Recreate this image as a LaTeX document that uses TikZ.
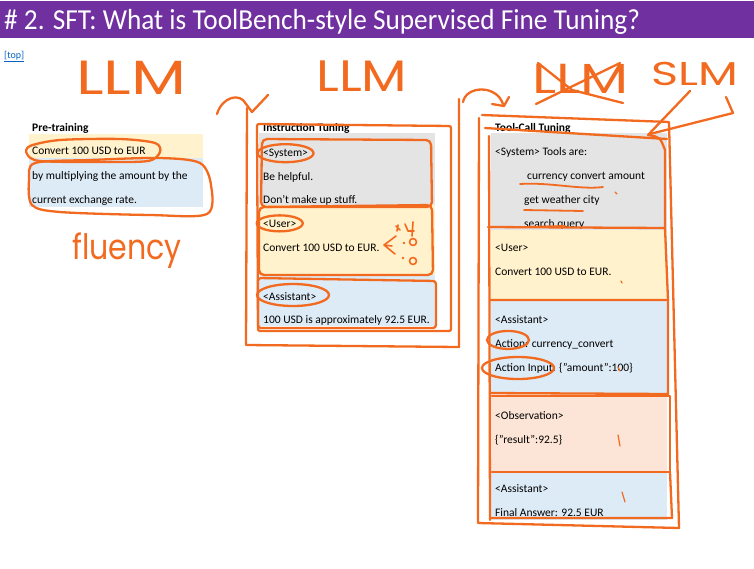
\documentclass[tikz,border=0pt]{standalone}
\usepackage{fontspec}
\setmainfont{Carlito}
\newfontfamily\titlefont{Carlito}[FakeStretch=0.94]
\newfontfamily\inkfont{Poppins}
\usetikzlibrary{positioning}
\definecolor{slidepurple}{HTML}{7030A0}
\definecolor{paleyellow}{HTML}{FFF2CC}
\definecolor{paleblue}{HTML}{DDEBF7}
\definecolor{palegray}{HTML}{E4E4E4}
\definecolor{palepeach}{HTML}{FCE4D6}
\definecolor{inkorange}{HTML}{F26A1F}
\definecolor{linkblue}{HTML}{0563C1}

\begin{document}
\begin{tikzpicture}[x=1pt,y=-1pt,
    band/.style={anchor=north west,inner sep=0pt,outer sep=0pt,minimum width=#1},
    txt/.style={anchor=base west,inner sep=0pt,font=\fontsize{11.5}{13}\selectfont},
    head/.style={txt,font=\fontsize{11.5}{13}\selectfont\bfseries},
    ink/.style={draw=inkorange,line width=2.3pt,line cap=round,line join=round},
    inkword/.style={anchor=base west,inner sep=0pt,text=inkorange,font=\inkfont\fontsize{#1}{#1}\selectfont}
]
\useasboundingbox (0,0) rectangle (754,568);

% title bar
\node[band=754pt,fill=slidepurple,minimum height=37pt] (bar) at (0,1) {};
\node[anchor=base west,inner sep=0pt,text=white,font=\titlefont\fontsize{29}{29}\selectfont] (title) at (4,29) {\# 2. SFT: What is ToolBench-style Supervised Fine Tuning?};
\node[anchor=base west,inner sep=0pt,text=linkblue,font=\fontsize{10}{11}\selectfont] (top) at (4,58) {\underline{[top]}};

% pre-training
\node[head] (preHead) at (32,131) {Pre-training};
\node[band=174pt,fill=paleyellow,minimum height=24pt] (preUser) at (29,134) {};
\node[band=174pt,fill=paleblue,minimum height=49pt] (preText) at (29,158) {};
\node[txt] (preA) at (32,154) {Convert 100 USD to EUR};
\node[txt] (preB) at (32,179) {by multiplying the amount by the};
\node[txt] (preC) at (32,203) {current exchange rate.};

% instruction tuning
\node[head] (insHead) at (263,131) {Instruction Tuning};
\node[band=176pt,fill=palegray,minimum height=72pt] (insSys) at (259,133) {};
\node[band=176pt,fill=paleyellow,minimum height=70pt] (insUser) at (259,205) {};
\node[band=176pt,fill=paleblue,minimum height=51pt] (insAsst) at (259,275) {};
\node[txt] (insA) at (263,156) {<System>};
\node[txt] (insB) at (263,180) {Be helpful.};
\node[txt] (insC) at (263,203) {Don't make up stuff.};
\node[txt] (insD) at (263,227) {<User>};
\node[txt] (insE) at (263,251) {Convert 100 USD to EUR.};
\node[txt] (insF) at (263,300) {<Assistant>};
\node[txt] (insG) at (263,323) {100 USD is approximately 92.5 EUR.};

% tool-call tuning
\node[head] (toolHead) at (495,131) {Tool-Call Tuning};
\node[band=176pt,fill=palegray,minimum height=97pt] (toolSys) at (491,133) {};
\node[band=176pt,fill=paleyellow,minimum height=71pt] (toolUser) at (491,230) {};
\node[band=176pt,fill=paleblue,minimum height=92pt] (toolAct) at (491,301) {};
\node[band=176pt,fill=palepeach,minimum height=79pt] (toolObs) at (491,393) {};
\node[band=176pt,fill=paleblue,minimum height=48pt] (toolAns) at (491,472) {};
\node[txt] (toolA) at (495,155) {<System> Tools are:};
\node[txt] (toolB) at (527,179) {currency convert amount};
\node[txt] (toolC) at (524,203) {get weather city};
\node[txt] (toolD) at (524,227) {search query};
\node[txt] (toolE) at (495,251) {<User>};
\node[txt] (toolF) at (495,275) {Convert 100 USD to EUR.};
\node[txt] (toolG) at (495,323) {<Assistant>};
\node[txt] (toolH) at (495,347) {Action: currency\_convert};
\node[txt] (toolI) at (495,371) {Action Input: \{"amount":100\}};
\node[txt] (toolJ) at (495,419) {<Observation>};
\node[txt] (toolK) at (495,443) {\{"result":92.5\}};
\node[txt] (toolL) at (495,492) {<Assistant>};
\node[txt] (toolM) at (495,516) {Final Answer: 92.5 EUR};

% ink words
\node[inkword=48] (llmPre) at (76,94) {\scalebox{1.33}[1]{LLM}};
\node[inkword=44] (llmIns) at (316,91) {\scalebox{1.2}[1]{LLM}};
\node[inkword=42] (llmTool) at (532,93) {\scalebox{1.33}[1]{LLM}};
\node[inkword=33] (slm) at (651,85) {\scalebox{1.4}[1]{SLM}};
\node[inkword=35] (fluency) at (72,259) {\scalebox{0.86}[1]{fluency}};
\draw[ink] (536,104) -- (620,63);
\draw[ink] (538,63) -- (572,90) -- (623,103);

% pre-training marks
\draw[ink] plot[smooth cycle] coordinates {(30,146) (60,140) (120,139) (155,143) (160,152) (148,161) (100,162) (40,161) (27,154)};
\draw[ink] plot[smooth cycle] coordinates {(35,163) (90,160) (160,158) (200,163) (211,185) (207,214) (150,215) (60,212) (32,205) (29,180)};

% instruction marks
\draw[ink] (217,114) .. controls (222,97) and (240,92) .. (246,104) -- (252,112) -- (268,95);
\draw[ink] (247,108) -- (246,345) -- (459,347) -- (459,99);
\draw[ink,rounded corners=2pt] (257,124) -- (451,126) -- (451,331) -- (258,331) -- cycle;
\draw[ink,rounded corners=5pt] (262,139) -- (431,140) -- (432,207) -- (261,207) -- cycle;
\draw[ink,rounded corners=5pt] (259,207) -- (432,205) -- (433,275) -- (259,275) -- cycle;
\draw[ink,rounded corners=3pt] (258,278) -- (436,281) -- (436,328) -- (258,328) -- cycle;
\draw[ink] (insA.center) ellipse [x radius=28, y radius=9];
\draw[ink] (insD.center) ellipse [x radius=23, y radius=8];
\draw[ink] (293,295) ellipse [x radius=36, y radius=11];
\draw[ink,line width=1.6pt] (396,236) -- (384,245) -- (395,254) (384,245) -- (392,246);
\draw[ink,line width=1.6pt] (405,224) -- (408,231) -- (414,231) (413,222) -- (412,236) (396,226) -- (400,230) (398,225) -- (397,231);
\fill[inkorange] (404,243) circle (1.4) (403,258) circle (1.4);
\draw[ink,line width=1.6pt] (413,242) circle (3.5) (413,261) circle (3.5);

% tool-call marks
\draw[ink] (463,102) .. controls (466,86) and (496,84) .. (503,104);
\draw[ink] (492,104) -- (504,106) -- (509,97);
\draw[ink] (482,115) -- (669,122) -- (679,528) -- (478,523) -- (479,118);
\draw[ink] (485,128) -- (667,139);
\draw[ink] (690,91) -- (648,135) .. controls (660,137) .. (665,150) -- (665,228);
\draw[ink] (726,97) -- (733,113) -- (650,134);
\draw[ink] (489,136) -- (490,520);
\draw[ink] (488,227) -- (665,228) -- (668,300) -- (490,300);
\draw[ink] (668,300) -- (668,394) -- (490,393);
\draw[ink] (492,396) -- (670,396) -- (670,472) -- (492,472);
\draw[ink] (670,472) -- (672,518) -- (490,518);
\draw[ink] (toolH.west) ++(13,-4) ellipse [x radius=21, y radius=9];
\draw[ink] (518,368) ellipse [x radius=36, y radius=11];
\draw[ink,line width=1.8pt] (520,184) .. controls (550,182) and (580,190) .. (603,187);
\draw[ink,line width=1.8pt] (524,210) -- (583,211);
\draw[ink,line width=1.8pt] (523,227) -- (565,226);
\draw[ink,line width=1.2pt] (615,192) -- (617,194) (621,281) -- (622,283) (618,367) -- (620,371) (618,435) -- (620,446) (622,492) -- (625,502);
\end{tikzpicture}
\end{document}
